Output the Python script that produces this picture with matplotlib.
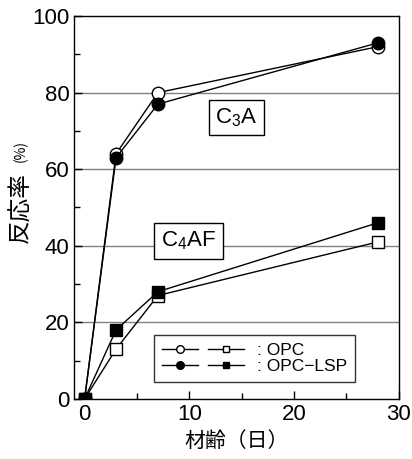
import numpy as np
import matplotlib
matplotlib.use('Agg')
import matplotlib.pyplot as plt
from matplotlib.lines import Line2D
from matplotlib.legend_handler import HandlerTuple
from matplotlib.ticker import MultipleLocator

plt.rcParams['font.family'] = ['Liberation Sans', 'Noto Sans CJK JP', 'DejaVu Sans']
plt.rcParams['mathtext.fontset'] = 'custom'
plt.rcParams['mathtext.rm'] = 'Liberation Sans'
plt.rcParams['mathtext.it'] = 'Liberation Sans'

# Datos
dias = [0, 3, 7, 28]
c3a_opc = [0, 64, 80, 92]
c3a_lsp = [0, 63, 77, 93]
c4af_opc = [0, 13, 27, 41]
c4af_lsp = [0, 18, 28, 46]

fig = plt.figure(figsize=(4.12, 4.59), dpi=100)
ax = fig.add_axes([0.18, 0.131, 0.788, 0.834])

# lineas de grilla horizontales
for yg in [20, 40, 60, 80]:
    ax.axhline(yg, color='#808080', lw=1.0, zorder=0)

ms = 9
ax.plot(dias, c3a_opc, '-o', color='black', mfc='white', mec='black', ms=ms, lw=1, zorder=3)
ax.plot(dias, c3a_lsp, '-o', color='black', mfc='black', mec='black', ms=ms, lw=1, zorder=4)
ax.plot(dias, c4af_opc, '-s', color='black', mfc='white', mec='black', ms=ms - 1, lw=1, zorder=3)
ax.plot(dias, c4af_lsp, '-s', color='black', mfc='black', mec='black', ms=ms - 1, lw=1, zorder=4)

ax.set_xlim(-1, 30)
ax.set_ylim(0, 100)
ax.xaxis.set_major_locator(MultipleLocator(10))
ax.xaxis.set_minor_locator(MultipleLocator(5))
ax.yaxis.set_major_locator(MultipleLocator(20))
ax.yaxis.set_minor_locator(MultipleLocator(10))
ax.tick_params(which='both', direction='in', labelsize=16, width=1)
ax.tick_params(which='major', length=6)
ax.tick_params(which='minor', length=4)
for s in ax.spines.values():
    s.set_linewidth(1)

# cajas de texto
bbox = dict(boxstyle='square,pad=0.3', fc='white', ec='black', lw=1)
ax.text(14.5, 73.5, 'C$_3$A', fontsize=16, ha='center', va='center', bbox=bbox, zorder=5)
ax.text(9.9, 41.3, 'C$_4$AF', fontsize=16, ha='center', va='center', bbox=bbox, zorder=5)

# leyenda
h1 = (Line2D([], [], color='black', marker='o', mfc='white', mec='black', ms=5.5, lw=1),
      Line2D([], [], color='black', marker='s', mfc='white', mec='black', ms=4.5, lw=1))
h2 = (Line2D([], [], color='black', marker='o', mfc='black', mec='black', ms=5.5, lw=1),
      Line2D([], [], color='black', marker='s', mfc='black', mec='black', ms=4.5, lw=1))
leg = ax.legend([h1, h2], [': OPC', ': OPC\u2212LSP'],
                handler_map={tuple: HandlerTuple(ndivide=None, pad=0.58)},
                loc='lower right', bbox_to_anchor=(0.865, 0.044), borderaxespad=0,
                fontsize=12.5, handlelength=4.7, handletextpad=0.75, labelspacing=0.05,
                frameon=True, fancybox=False, edgecolor='black', borderpad=0.46)
leg.get_frame().set_linewidth(1)
leg.set_zorder(6)

# rotulos
ax.set_xlabel('材齢（日）', fontsize=15, family=['Noto Sans CJK JP'], labelpad=4)
fig.text(0.051, 0.547, '反応率', rotation=90, fontsize=17, ha='center', va='center',
         family=['Noto Sans CJK JP'])
fig.text(0.051, 0.672, '(%)', rotation=90, fontsize=10, ha='center', va='center',
         family=['Noto Sans CJK JP'])

fig.savefig('out.png', dpi=100)
